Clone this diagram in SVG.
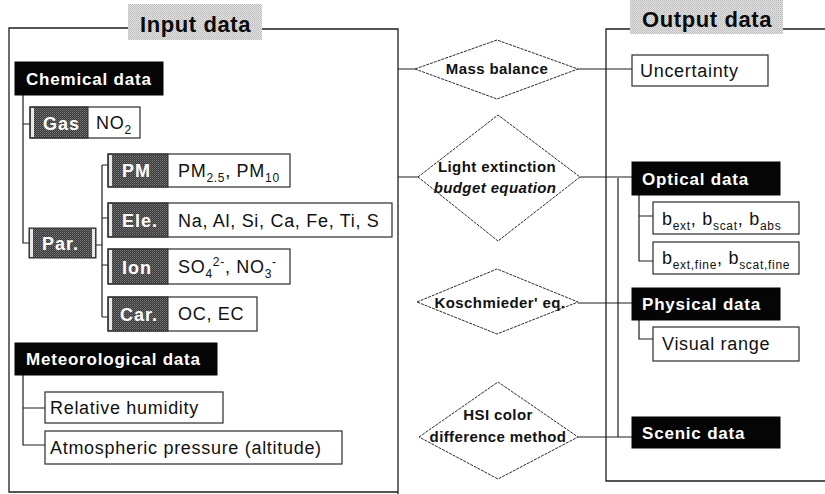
<svg xmlns="http://www.w3.org/2000/svg" width="825" height="494" viewBox="0 0 825 494">
<defs>
<pattern id="stipL" width="2" height="2" patternUnits="userSpaceOnUse"><rect width="2" height="2" fill="#e4e4e4"/><rect width="1" height="1" fill="#b8b8b8"/><rect x="1" y="1" width="1" height="1" fill="#c4c4c4"/></pattern>
<pattern id="stipD" width="2" height="2" patternUnits="userSpaceOnUse"><rect width="2" height="2" fill="#3a3a3a"/><rect width="1" height="1" fill="#7a7a7a"/><rect x="1" y="1" width="1" height="1" fill="#5c5c5c"/></pattern>
</defs>
<style>
.ln{fill:none;stroke:#1e1e1e;stroke-width:1.2}
.frm{fill:none;stroke:#1e1e1e;stroke-width:1.3}
.box{fill:#fff;stroke:#2a2a2a;stroke-width:1.2}
.blk{fill:#050505;stroke:#050505}
.lab{fill:url(#stipD);stroke:#2a2a2a;stroke-width:1}
.cap{fill:#e8e8e8}
.dia{fill:#fff;stroke:#2a2a2a;stroke-width:1;stroke-dasharray:3 1}
.title{font-family:"Liberation Sans",Arial,sans-serif;font-weight:bold;font-size:22px;letter-spacing:0.6px;fill:#0a0a0a}
.wt{font-family:"Liberation Sans",Arial,sans-serif;font-weight:bold;font-size:17px;letter-spacing:0.8px;fill:#fff}
.lt{font-family:"Liberation Sans",Arial,sans-serif;font-weight:bold;font-size:18px;letter-spacing:1px;fill:#fff}
.tx{font-family:"Liberation Sans",Arial,sans-serif;font-size:18px;letter-spacing:0.7px;fill:#111}
.dt{font-family:"Liberation Sans",Arial,sans-serif;font-weight:bold;font-size:15px;letter-spacing:0.4px;fill:#111;text-anchor:middle}
</style>

<g id="frames">
<rect x="128" y="4" width="134" height="36" fill="url(#stipL)"/>
<text class="title" x="140" y="32">Input data</text>
<path class="frm" d="M128 28 H9 V492 H398 M262 29 H398 V494"/>
<rect x="630" y="0" width="153" height="34" fill="url(#stipL)"/>
<text class="title" x="642" y="27">Output data</text>
<path class="frm" d="M630 29 H606 V481 H825 M783 29 H825"/>
</g>

<g id="connectors">
<path class="ln" d="M23 95 V243 H29 M23 124 H30"/>
<path class="ln" d="M96 245 H102 M102 165 V317 M102 165 H108 M102 218 H108 M102 265 H108 M102 317 H108"/>
<path class="ln" d="M23 375 V445 H45 M23 408 H45"/>
<path class="ln" d="M398 69 H415 M578 69 H632"/>
<path class="ln" d="M398 177 H418 M580 177 H632"/>
<path class="ln" d="M578 303 H632"/>
<path class="ln" d="M578 437 H632"/>
<path class="ln" d="M618 178 V437"/>
<path class="ln" d="M639 195 V261 H653 M639 216 H653"/>
<path class="ln" d="M639 320 V339 H653"/>
</g>

<g id="chemical"><rect class="blk" x="15" y="62" width="148" height="33"/><text class="wt" x="26" y="85">Chemical data</text></g>
<g id="gas"><rect class="box" x="30" y="107" width="110" height="31"/><rect class="lab" x="30" y="107" width="58" height="31"/><rect class="cap" x="31" y="108" width="3" height="29"/><text class="lt" x="43" y="130">Gas</text><text class="tx" x="96" y="129">NO<tspan font-size="12" dy="5">2</tspan></text></g>
<g id="par"><rect class="lab" x="29" y="228" width="67" height="30"/><rect class="cap" x="30" y="229" width="3" height="28"/><rect class="cap" x="92" y="229" width="3" height="28"/><text class="lt" x="42" y="250">Par.</text></g>
<g id="pm"><rect class="box" x="108" y="154" width="182" height="33"/><rect class="lab" x="108" y="154" width="60" height="33"/><rect class="cap" x="109" y="155" width="3" height="31"/><text class="lt" x="122" y="177">PM</text><text class="tx" x="178" y="177">PM<tspan font-size="12" dy="5">2.5</tspan><tspan dy="-5">, PM</tspan><tspan font-size="12" dy="5">10</tspan></text></g>
<g id="ele"><rect class="box" x="108" y="203" width="284" height="34"/><rect class="lab" x="108" y="203" width="60" height="34"/><rect class="cap" x="109" y="204" width="3" height="32"/><text class="lt" x="122" y="227">Ele.</text><text class="tx" x="178" y="227">Na, Al, Si, Ca, Fe, Ti, S</text></g>
<g id="ion"><rect class="box" x="108" y="249" width="182" height="35"/><rect class="lab" x="108" y="249" width="60" height="35"/><rect class="cap" x="109" y="250" width="3" height="33"/><text class="lt" x="122" y="274">Ion</text><text class="tx" x="178" y="273">SO<tspan font-size="12" dy="5">4</tspan><tspan font-size="12" dy="-12">2-</tspan><tspan dy="7">, NO</tspan><tspan font-size="12" dy="5">3</tspan><tspan font-size="12" dy="-12">-</tspan></text></g>
<g id="car"><rect class="box" x="108" y="297" width="149" height="34"/><rect class="lab" x="108" y="297" width="60" height="34"/><rect class="cap" x="109" y="298" width="3" height="32"/><text class="lt" x="120" y="321">Car.</text><text class="tx" x="178" y="320">OC, EC</text></g>

<g id="meteorological"><rect class="blk" x="15" y="343" width="202" height="32"/><text class="wt" x="26" y="365">Meteorological data</text></g>
<g id="humidity"><rect class="box" x="45" y="392" width="178" height="31"/><text class="tx" x="50" y="414">Relative humidity</text></g>
<g id="pressure"><rect class="box" x="45" y="431" width="297" height="33"/><text class="tx" x="50" y="454">Atmospheric pressure (altitude)</text></g>

<g id="mass-balance"><polygon class="dia" points="415,69 497,40 578,69 497,99"/><text class="dt" x="497" y="74">Mass balance</text></g>
<g id="light-extinction"><polygon class="dia" points="418,177 498,115 580,177 498,241"/><text class="dt" x="497" y="172">Light extinction</text><text class="dt" x="495" y="193" font-style="italic">budget equation</text></g>
<g id="koschmieder"><polygon class="dia" points="417,302 497,269 578,302 497,334"/><text class="dt" x="500" y="308">Koschmieder' eq.</text></g>
<g id="hsi"><polygon class="dia" points="419,437 498,382 578,437 498,479"/><text class="dt" x="498" y="420">HSI color</text><text class="dt" x="498" y="442">difference method</text></g>

<g id="uncertainty"><rect class="box" x="632" y="55" width="136" height="31"/><text class="tx" x="640" y="77">Uncertainty</text></g>
<g id="optical"><rect class="blk" x="632" y="162" width="148" height="33"/><text class="wt" x="642" y="185">Optical data</text></g>
<g id="b-coeff"><rect class="box" x="653" y="202" width="146" height="32"/><text class="tx" x="662" y="225">b<tspan font-size="12" dy="5">ext</tspan><tspan dy="-5">, b</tspan><tspan font-size="12" dy="5">scat</tspan><tspan dy="-5">, b</tspan><tspan font-size="12" dy="5">abs</tspan></text></g>
<g id="b-fine"><rect class="box" x="653" y="242" width="146" height="32"/><text class="tx" x="662" y="264">b<tspan font-size="12" dy="5">ext,fine</tspan><tspan dy="-5">, b</tspan><tspan font-size="12" dy="5">scat,fine</tspan></text></g>
<g id="physical"><rect class="blk" x="632" y="288" width="148" height="32"/><text class="wt" x="642" y="310">Physical data</text></g>
<g id="visual-range"><rect class="box" x="653" y="327" width="146" height="34"/><text class="tx" x="662" y="350">Visual range</text></g>
<g id="scenic"><rect class="blk" x="632" y="417" width="148" height="31"/><text class="wt" x="642" y="439">Scenic data</text></g>
</svg>
